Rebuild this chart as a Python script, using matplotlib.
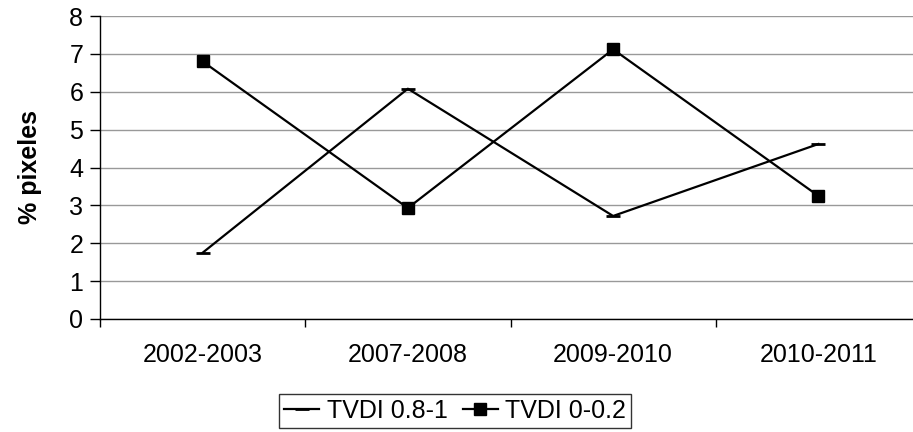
import matplotlib.pyplot as plt
import numpy as np

plt.rcParams['font.family'] = ['Liberation Sans', 'DejaVu Sans']

periods = ["2002-2003", "2007-2008", "2009-2010", "2010-2011"]
tvdi_high = [1.75, 6.08, 2.72, 4.62]   # TVDI 0.8-1
tvdi_low = [6.8, 2.93, 7.12, 3.25]     # TVDI 0-0.2

fig = plt.figure(figsize=(9.13, 4.32), dpi=100)
ax = fig.add_axes([100 / 913, 1 - 319 / 432, 821 / 913, 303 / 432])

x = np.arange(len(periods))
ax.plot(x, tvdi_high, color="black", linewidth=1.6, marker="_",
        markersize=10, markeredgewidth=2, label="TVDI 0.8-1")
ax.plot(x, tvdi_low, color="black", linewidth=1.6, marker="s",
        markersize=9, label="TVDI 0-0.2")

ax.set_xlim(-0.5, len(periods) - 0.5)
ax.set_ylim(0, 8)
ax.set_yticks(range(0, 9))
ax.yaxis.grid(True, color="#999999", linewidth=1)
ax.set_axisbelow(True)

# category boundaries as tick marks, labels centred between them
ax.set_xticks(np.arange(-0.5, len(periods) + 0.5, 1))
ax.set_xticklabels([])
ax.set_xticks(x, minor=True)
ax.set_xticklabels(periods, minor=True)
ax.tick_params(axis="x", which="major", length=6, width=1, direction="out")
ax.tick_params(axis="x", which="minor", length=0, pad=17, labelsize=18)
ax.tick_params(axis="y", length=7, width=1, pad=5, labelsize=18)

for side in ("top", "right"):
    ax.spines[side].set_visible(False)
ax.spines["left"].set_linewidth(1)
ax.spines["bottom"].set_linewidth(1)

ax.set_ylabel("% pixeles", fontsize=18, fontweight="bold", labelpad=20)

leg = fig.legend(loc="upper center", bbox_to_anchor=(455 / 913, 1 - 394 / 432),
                 ncol=2, fontsize=18, frameon=True, fancybox=False,
                 handlelength=1.4, handletextpad=0.3, columnspacing=0.6,
                 borderpad=0.2, borderaxespad=0, edgecolor="black")
leg.get_frame().set_linewidth(1)

fig.savefig("out.png", dpi=100)
plt.close(fig)
